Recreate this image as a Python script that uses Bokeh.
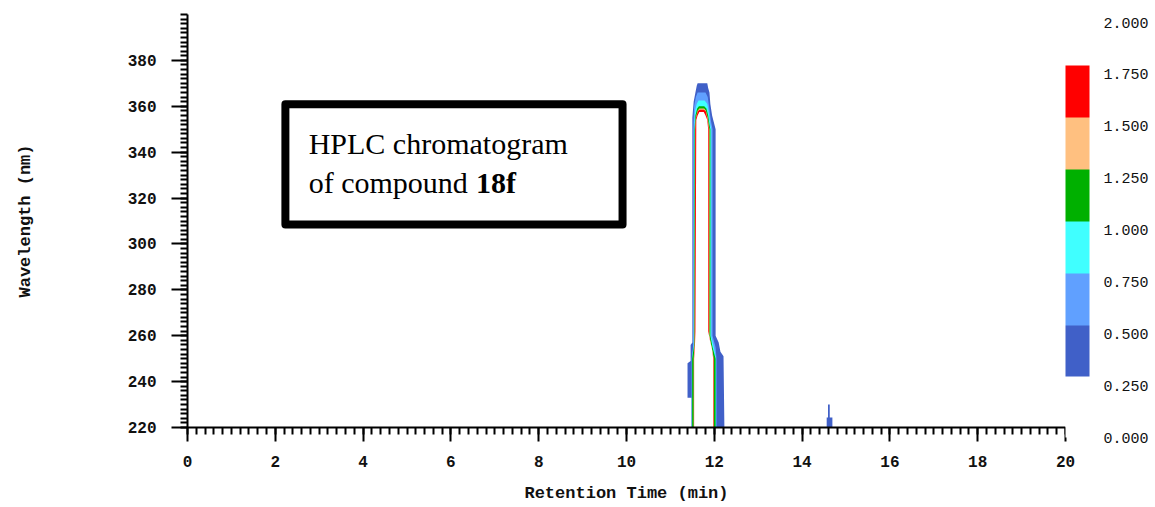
from bokeh.plotting import figure
from bokeh.models import (ColumnDataSource, Range1d, FixedTicker, ColorBar,
                          LinearColorMapper, PrintfTickFormatter)
from bokeh.core.properties import value
from bokeh.embed import file_html
from bokeh.resources import INLINE

# ---------------- data ----------------
x_ticks = [0, 2, 4, 6, 8, 10, 12, 14, 16, 18, 20]
y_ticks = [220, 240, 260, 280, 300, 320, 340, 360, 380]
cbar_ticks = [0.0, 0.25, 0.5, 0.75, 1.0, 1.25, 1.5, 1.75, 2.0]
level_values = [0.25, 0.5, 0.75, 1.0, 1.25, 1.5, 1.75]
level_colors = ["#4060C8", "#60A0FF", "#40FFFF", "#00B000", "#FFC080", "#FF0000", "#FFFFFF"]

# contour boundaries (retention time min, wavelength nm)
lvl025_t = [11.48, 11.48, 11.39, 11.39, 11.46, 11.46, 11.50, 11.50, 11.53, 11.57, 11.60, 11.62,
            11.84, 11.86, 11.89, 11.91, 11.95, 12.03, 12.03, 12.10, 12.14, 12.21, 12.23]
lvl025_w = [220, 233, 233, 248, 249, 256, 257, 355, 362, 366, 369, 370,
            370, 368, 366, 361, 356, 350, 260, 257, 253, 251, 220]
lvl050_t = [11.485, 11.485, 11.52, 11.52, 11.54, 11.58, 11.62, 11.80, 11.85, 11.88, 11.92,
            11.96, 11.96, 12.03, 12.05, 12.05]
lvl050_w = [220, 250, 256, 350, 360, 364, 366, 366, 364, 360, 354, 350, 260, 255, 250, 220]
lvl075_t = [11.49, 11.49, 11.53, 11.54, 11.56, 11.60, 11.64, 11.78, 11.84, 11.87, 11.91,
            11.93, 11.93, 11.99, 12.04, 12.04]
lvl075_w = [220, 250, 256, 350, 358, 361, 362.5, 362.5, 361, 358, 352, 350, 260, 255, 250, 220]
lvl100_t = [11.495, 11.495, 11.54, 11.55, 11.57, 11.61, 11.65, 11.77, 11.82, 11.86, 11.89,
            11.91, 11.91, 11.96, 12.03, 12.03]
lvl100_w = [220, 250, 256, 350, 356, 359, 360, 360, 359, 356, 352, 350, 260, 255, 250, 220]
lvl125_t = [11.53, 11.53, 11.55, 11.56, 11.58, 11.62, 11.66, 11.77, 11.81, 11.85, 11.88,
            11.89, 11.89, 11.93, 11.99, 11.99]
lvl125_w = [220, 250, 256, 350, 355, 358, 359, 359, 358, 355, 351, 350, 260, 256, 250, 220]
lvl150_t = [11.535, 11.535, 11.555, 11.565, 11.585, 11.625, 11.66, 11.765, 11.805, 11.845,
            11.87, 11.875, 11.875, 11.92, 11.985, 11.985]
lvl150_w = [220, 250, 256, 350, 355, 357.8, 358.5, 358.5, 357.8, 354.5, 351, 350, 260, 256, 250, 220]
lvl175_t = [11.54, 11.54, 11.56, 11.57, 11.59, 11.62, 11.66, 11.76, 11.80, 11.84, 11.86,
            11.86, 11.86, 11.90, 11.95, 11.975, 11.975]
lvl175_w = [220, 250, 256, 262, 354, 356, 357.5, 357.5, 356, 354, 350, 262, 262, 258, 254, 250, 220]
# small peak near 14.6 min
minor_t = [14.56, 14.56, 14.59, 14.59, 14.63, 14.63, 14.69, 14.69]
minor_w = [220, 224.4, 224.4, 230, 230, 224.4, 224.4, 220]

# ---------------- figure ----------------
p = figure(width=1155, height=507, output_backend="svg", toolbar_location=None,
           x_range=Range1d(0, 20), y_range=Range1d(220, 400),
           min_border_left=187, min_border_top=14, min_border_right=90, min_border_bottom=80,
           background_fill_color="white", border_fill_color="white")
p.outline_line_color = None
p.grid.visible = False

src = ColumnDataSource(dict(
    xs=[lvl025_t, lvl050_t, lvl075_t, lvl100_t, lvl125_t, lvl150_t, lvl175_t, minor_t],
    ys=[lvl025_w, lvl050_w, lvl075_w, lvl100_w, lvl125_w, lvl150_w, lvl175_w, minor_w],
    color=level_colors + [level_colors[0]],
))
p.patches("xs", "ys", source=src, fill_color="color", line_color=None)

# annotation box
p.quad(left=[2.23], right=[9.91], bottom=[308.5], top=[360.9], fill_color="white",
       line_color="black", line_width=8, line_join="round")
p.text(x=[2.76], y=[343.9], text=["HPLC chromatogram"], text_font=value("Liberation Serif"),
       text_font_size="30px", text_baseline="alphabetic", text_color="black")
p.text(x=[2.76], y=[326.8], text=["of compound"], text_font=value("Liberation Serif"),
       text_font_size="30px", text_baseline="alphabetic", text_color="black")
p.text(x=[6.57], y=[326.8], text=["18f"], text_font=value("Liberation Serif"),
       text_font_size="30px", text_font_style="bold", text_baseline="alphabetic",
       text_color="black")

# axes
mono = "Liberation Mono"
for ax in (p.xaxis[0], p.yaxis[0]):
    ax.axis_line_width = 2
    ax.major_tick_line_width = 2
    ax.minor_tick_line_width = 2
    ax.major_tick_in = 0
    ax.minor_tick_in = 0
    ax.minor_tick_out = 7
    ax.major_label_text_font = mono
    ax.major_label_text_font_size = "16px"
    ax.major_label_text_font_style = "bold"
    ax.major_label_text_color = "#111111"
    ax.axis_label_text_font = mono
    ax.axis_label_text_font_size = "17px"
    ax.axis_label_text_font_style = "bold"
    ax.axis_label_text_color = "#111111"

p.xaxis.ticker = FixedTicker(ticks=x_ticks, minor_ticks=[i * 0.2 for i in range(101)])
p.xaxis.major_tick_out = 14
p.xaxis.major_label_standoff = 14
p.xaxis.axis_label = "Retention Time (min)"
p.xaxis.axis_label_standoff = 14

p.yaxis.ticker = FixedTicker(ticks=y_ticks, minor_ticks=list(range(220, 401, 2)))
p.yaxis.major_tick_out = 16
p.yaxis.major_label_standoff = 15
p.yaxis.axis_label = "Wavelength (nm)"
p.yaxis.axis_label_standoff = 90

# colour bar (blocks drawn slightly above their labels, as in the source)
palette = ["#FFFFFF"] * 7
for c in level_colors[:-1]:
    palette += [c] * 6
palette += ["#FFFFFF"] * 5
mapper = LinearColorMapper(palette=palette, low=0, high=2)
cb = ColorBar(color_mapper=mapper, width=24, height=415, location=(0, -10),
              ticker=FixedTicker(ticks=cbar_ticks),
              formatter=PrintfTickFormatter(format="%.3f"),
              major_label_text_font=mono, major_label_text_font_size="15px",
              major_label_text_color="#111111",
              major_tick_line_color=None, bar_line_color=None,
              label_standoff=14, margin=0, padding=0,
              background_fill_color=None, border_line_color=None)
p.add_layout(cb, "right")

open("out.html", "w").write(file_html(p, INLINE))
